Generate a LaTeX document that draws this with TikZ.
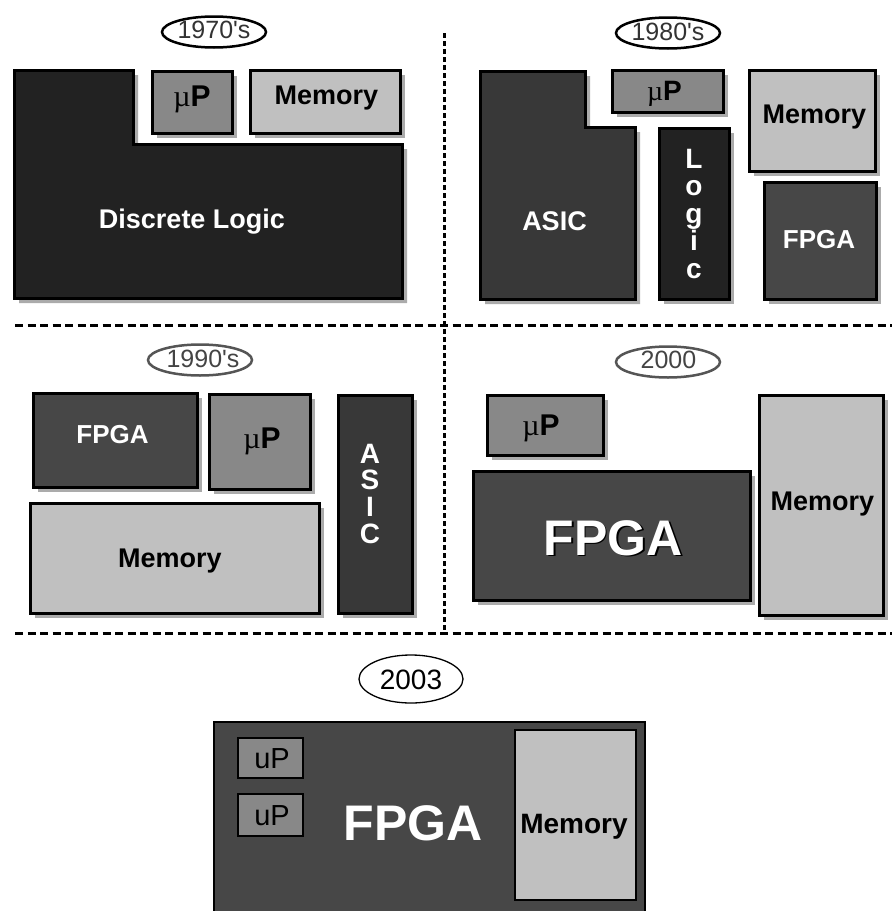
\documentclass[tikz,border=0pt]{standalone}
\usepackage{fontspec}
\setmainfont{Liberation Sans}
\newfontfamily\serifmu{Liberation Serif}
\usetikzlibrary{shapes.geometric,shadows}

\definecolor{logicfill}{HTML}{222222}
\definecolor{asicfill}{HTML}{383838}
\definecolor{fpgafill}{HTML}{474747}
\definecolor{cpufill}{HTML}{888888}
\definecolor{memfill}{HTML}{C0C0C0}
\definecolor{shade}{HTML}{ABABAB}
\definecolor{eratext}{HTML}{333333}
\definecolor{eraline}{HTML}{555555}

\newcommand{\fsz}[1]{\fontsize{#1}{#1}\selectfont}
\newcommand{\muP}{{\serifmu\mdseries µ}P}

\begin{document}
\begin{tikzpicture}[x=1pt,y=-1pt,
  block/.style={draw=black, line width=3pt, inner sep=0pt,
    drop shadow={shadow xshift=5pt, shadow yshift=-5pt, fill=shade, opacity=1}},
  chip/.style={draw=black, line width=1.5pt, inner sep=0pt},
  lbl/.style={inner sep=0pt, anchor=base, font=\fsz{#1}\bfseries},
  lbl/.default=27,
  era/.style={ellipse, draw=black, line width=2.5pt, fill=white, inner sep=0pt,
    minimum width=104pt, minimum height=31pt},
  eratxt/.style={inner sep=0pt, anchor=base, font=\fsz{25}, text=eratext},
  hdash/.style={line width=3pt, dash pattern=on 8pt off 4.5pt},
  vdash/.style={line width=3pt, dash pattern=on 5pt off 3pt}]

\useasboundingbox (0,0) rectangle (892,911);
\clip (0,0) rectangle (892,911);

% ---------- dividing lines ----------
\coordinate (vtop) at (444,33);
\coordinate (vbot) at (444,630);
\coordinate (h1l) at (15,325);
\coordinate (h1r) at (892,325);
\coordinate (h2l) at (15,633);
\coordinate (h2r) at (892,633);
\draw[vdash] (vtop) -- (vbot);
\draw[hdash] (h1l) -- (h1r);
\draw[hdash] (h2l) -- (h2r);

% ---------- 1970's ----------
\node[era] (e70) at (214,32) {};
\node[eratxt] (e70t) at (214,38.5) {1970\textquotesingle s};
\path[block, fill=logicfill] (14,70) -- (133,70) -- (133,144) -- (402,144)
  -- (402,298) -- (14,298) -- cycle;
\node[lbl, text=white] (dl70) at (192,228) {Discrete Logic};
\node[block, fill=cpufill, minimum width=80pt, minimum height=62pt] (cpu70) at (192,102) {};
\node[lbl=30] (cpu70t) at (192,106) {\muP};
\node[block, fill=memfill, minimum width=150pt, minimum height=63pt] (mem70) at (325,101.5) {};
\node[lbl] (mem70t) at (326.5,104) {Memory};

% ---------- 1980's ----------
\node[era] (e80) at (668,33) {};
\node[eratxt] (e80t) at (668,40) {1980\textquotesingle s};
\path[block, fill=asicfill] (480,71) -- (585,71) -- (585,127) -- (635,127)
  -- (635,299) -- (480,299) -- cycle;
\node[lbl, text=white] (asic80t) at (554.5,230) {ASIC};
\node[block, fill=cpufill, minimum width=111pt, minimum height=42pt] (cpu80) at (667.5,91) {};
\node[lbl=28] (cpu80t) at (664.5,100) {\muP};
\node[block, fill=logicfill, minimum width=70pt, minimum height=171pt] (log80) at (694,213.5) {};
\node[lbl=28, text=white] (log80a) at (694,168) {L};
\node[lbl=28, text=white] (log80b) at (694,195.5) {o};
\node[lbl=28, text=white] (log80c) at (694,223) {g};
\node[lbl=28, text=white] (log80d) at (694,250.5) {i};
\node[lbl=28, text=white] (log80e) at (694,278) {c};
\node[block, fill=memfill, minimum width=126pt, minimum height=101pt] (mem80) at (812,120.5) {};
\node[lbl] (mem80t) at (814.5,123) {Memory};
\node[block, fill=fpgafill, minimum width=112pt, minimum height=117pt] (fpga80) at (820,240.5) {};
\node[lbl=26, text=white] (fpga80t) at (819,248) {FPGA};

% ---------- 1990's ----------
\node[era, draw=eraline] (e90) at (200,360) {};
\node[eratxt, text=eraline!80!black] (e90t) at (203,367) {1990\textquotesingle s};
\node[block, fill=fpgafill, minimum width=164pt, minimum height=94pt] (fpga90) at (115,440) {};
\node[lbl=26, text=white] (fpga90t) at (112.5,443) {FPGA};
\node[block, fill=cpufill, minimum width=101pt, minimum height=95pt] (cpu90) at (259.5,441.5) {};
\node[lbl=30] (cpu90t) at (262,448) {\muP};
\node[block, fill=memfill, minimum width=289pt, minimum height=110pt] (mem90) at (174.5,558) {};
\node[lbl] (mem90t) at (170,567) {Memory};
\node[block, fill=asicfill, minimum width=74pt, minimum height=218pt] (asic90) at (375,504) {};
\node[lbl=28, text=white] (asic90a) at (370,463) {A};
\node[lbl=28, text=white] (asic90b) at (370,489.7) {S};
\node[lbl=28, text=white] (asic90c) at (370,516.3) {I};
\node[lbl=28, text=white] (asic90d) at (370,543) {C};

% ---------- 2000 ----------
\node[era, draw=eraline] (e00) at (668,362) {};
\node[eratxt, text=eraline!80!black] (e00t) at (668.5,368) {2000};
\node[block, fill=cpufill, minimum width=116pt, minimum height=60pt] (cpu00) at (545,425) {};
\node[lbl=30] (cpu00t) at (541,435) {\muP};
\node[block, fill=fpgafill, minimum width=277pt, minimum height=129pt] (fpga00) at (611.5,535.5) {};
\node[lbl=50, text=black] (fpga00s) at (614.8,556.8) {FPGA};
\node[lbl=50, text=white] (fpga00t) at (613,555) {FPGA};
\node[block, fill=memfill, minimum width=124pt, minimum height=220pt] (mem00) at (821,505) {};
\node[lbl] (mem00t) at (822.5,510) {Memory};

% ---------- 2003 ----------
\node[era, line width=1.3pt, minimum height=48pt] (e03) at (411,679) {};
\node[inner sep=0pt, anchor=base, font=\fsz{28}] (e03t) at (411,689) {2003};
\node[chip, fill=fpgafill, minimum width=431pt, minimum height=210pt] (fpga03) at (429.5,827) {};
\node[chip, fill=cpufill, minimum width=65pt, minimum height=40pt] (cpu03a) at (270.5,758) {};
\node[inner sep=0pt, anchor=base, font=\fsz{29}] (cpu03at) at (272,768) {uP};
\node[chip, fill=cpufill, minimum width=65pt, minimum height=42pt] (cpu03b) at (270.5,815) {};
\node[inner sep=0pt, anchor=base, font=\fsz{29}] (cpu03bt) at (272,825) {uP};
\node[lbl=50, text=white] (fpga03t) at (413,840) {FPGA};
\node[chip, line width=2pt, fill=memfill, minimum width=121pt, minimum height=170pt] (mem03) at (575.5,815) {};
\node[lbl=28] (mem03t) at (574,833) {Memory};

\end{tikzpicture}
\end{document}
